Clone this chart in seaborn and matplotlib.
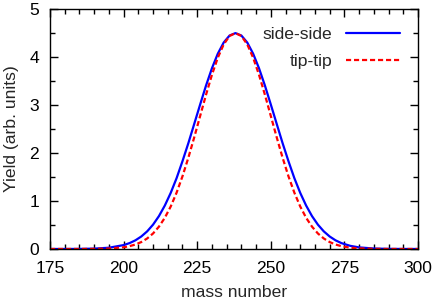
import numpy as np
import pandas as pd
import matplotlib
matplotlib.use("Agg")
import matplotlib.pyplot as plt
import seaborn as sns
from matplotlib.ticker import MultipleLocator

# -------------------------------------------------------------
#  Datos (rendimiento vs numero de masa)
# -------------------------------------------------------------

mass = [175, 180, 185, 190, 195, 200,
        202, 204, 206, 208, 210, 212, 214, 216, 218, 220,
        222, 224, 226, 228, 230, 232, 234, 236, 238, 240,
        242, 244, 246, 248, 250, 252, 254, 256, 258, 260,
        262, 264, 266, 268, 270, 272, 274, 277,
        280, 285, 290, 295, 300]

side_side = [0.0, 0.0004, 0.0018, 0.0074, 0.026, 0.081,
             0.122, 0.180, 0.260, 0.367, 0.507, 0.685, 0.905, 1.169, 1.477, 1.830,
             2.207, 2.609, 3.012, 3.407, 3.766, 4.071, 4.304, 4.450, 4.500, 4.450,
             4.304, 4.071, 3.766, 3.407, 3.012, 2.609, 2.207, 1.830, 1.477, 1.169,
             0.905, 0.685, 0.507, 0.367, 0.260, 0.180, 0.122, 0.065,
             0.033, 0.0096, 0.0024, 0.0005, 0.0001]

tip_tip = [0.0, 0.0001, 0.0004, 0.002, 0.009, 0.035,
           0.058, 0.093, 0.144, 0.219, 0.323, 0.465, 0.650, 0.885, 1.174, 1.515,
           1.904, 2.329, 2.773, 3.215, 3.630, 3.987, 4.265, 4.440, 4.500, 4.440,
           4.265, 3.987, 3.630, 3.215, 2.773, 2.329, 1.904, 1.515, 1.174, 0.885,
           0.650, 0.465, 0.323, 0.219, 0.144, 0.093, 0.058, 0.027,
           0.012, 0.0027, 0.0005, 0.0001, 0.0]

labels = ["side-side", "tip-tip"]
x_ticks = [175, 200, 225, 250, 275, 300]
y_ticks = [0, 1, 2, 3, 4, 5]

# -------------------------------------------------------------
#  Estilo tipo gnuplot
# -------------------------------------------------------------

sns.set_style("ticks")
plt.rcParams["font.family"] = ["Liberation Sans", "DejaVu Sans"]
FS = 12.6

fig = plt.figure(figsize=(4.36, 3.04), dpi=100)
ax = fig.add_axes([0.1147, 0.181, 0.844, 0.789])

sns.lineplot(x=mass, y=side_side, ax=ax, color="#0000ff", linewidth=1.6,
             label=labels[0])
sns.lineplot(x=mass, y=tip_tip, ax=ax, color="#ff0000", linewidth=1.6,
             linestyle=(0, (2.3, 1.3)), label=labels[1])

ax.set_xlim(175, 300)
ax.set_ylim(0, 5)
ax.set_xticks(x_ticks)
ax.set_yticks(y_ticks)
ax.xaxis.set_minor_locator(MultipleLocator(5))
ax.yaxis.set_minor_locator(MultipleLocator(0.5))

ax.tick_params(which="both", direction="in", top=True, right=True,
               colors="black", width=1.0, labelsize=FS)
ax.tick_params(which="major", length=6)
ax.tick_params(axis="x", which="major", pad=9)
ax.tick_params(axis="y", which="major", pad=8)
ax.tick_params(which="minor", length=3.5)
for s in ax.spines.values():
    s.set_linewidth(1.0)
    s.set_color("black")

ax.set_xlabel("mass number", fontsize=FS, labelpad=6)
ax.set_ylabel("Yield (arb. units)", fontsize=FS, labelpad=7)

ax.legend(loc="upper right", frameon=False, markerfirst=False,
          handlelength=3.1, handletextpad=0.8, labelspacing=0.7,
          fontsize=FS, borderaxespad=0.6)

plt.savefig("out.png", dpi=100)
plt.close()
